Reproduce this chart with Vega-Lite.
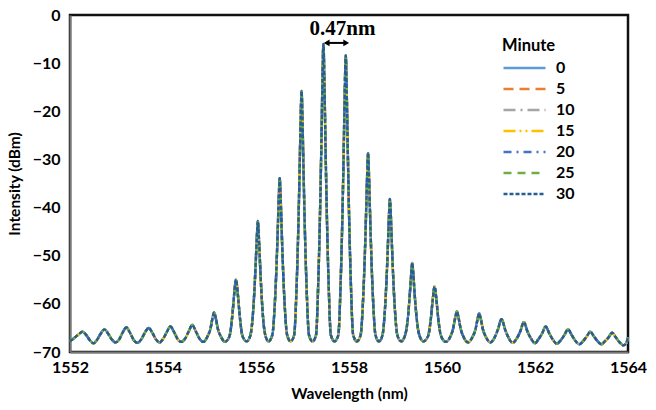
{
  "$schema": "https://vega.github.io/schema/vega-lite/v6.json",
  "width": 558,
  "height": 337,
  "autosize": "none",
  "padding": {"left": 70, "top": 15, "right": 28, "bottom": 58},
  "background": "white",
  "config": {
    "view": {"stroke": "#111", "strokeWidth": 2.5},
    "font": "Lato",
    "axis": {
      "labelFont": "Lato", "labelFontWeight": "bold", "labelFontSize": 16, "labelColor": "#000", "labelFlush": false,
      "titleFont": "Lato", "titleFontWeight": "bold", "titleFontSize": 15.5, "titleColor": "#000",
      "grid": false, "domainColor": "#777", "domainWidth": 2, "ticks": false
    },
    "legend": {
      "symbolType": "stroke", "symbolSize": 1764, "symbolStrokeWidth": 2.6, "clipHeight": 21,
      "labelFont": "Lato", "labelFontSize": 16, "labelFontWeight": "bold", "labelColor": "#000",
      "titleFont": "Lato", "titleFontSize": 16.5, "titleFontWeight": "bold", "titleColor": "#000",
      "labelOffset": 9, "rowPadding": 0, "titlePadding": 3
    }
  },
  "datasets": {
    "spec": [
      {"w": 1552.00, "v": -67.8}, {"w": 1552.10, "v": -67.0}, {"w": 1552.19, "v": -66.3}, {"w": 1552.27, "v": -65.8},
      {"w": 1552.35, "v": -66.5}, {"w": 1552.43, "v": -67.6}, {"w": 1552.505, "v": -68.2}, {"w": 1552.58, "v": -67.5},
      {"w": 1552.66, "v": -66.2}, {"w": 1552.74, "v": -65.3}, {"w": 1552.82, "v": -66.2}, {"w": 1552.90, "v": -67.4},
      {"w": 1552.975, "v": -68.0}, {"w": 1553.05, "v": -67.5}, {"w": 1553.13, "v": -66.0}, {"w": 1553.21, "v": -64.9},
      {"w": 1553.29, "v": -66.0}, {"w": 1553.37, "v": -67.5}, {"w": 1553.45, "v": -68.1}, {"w": 1553.53, "v": -67.4},
      {"w": 1553.61, "v": -66.0}, {"w": 1553.69, "v": -65.0}, {"w": 1553.77, "v": -66.0}, {"w": 1553.85, "v": -67.4},
      {"w": 1553.925, "v": -68.0}, {"w": 1554.00, "v": -67.3}, {"w": 1554.08, "v": -65.9}, {"w": 1554.16, "v": -64.7},
      {"w": 1554.24, "v": -65.9}, {"w": 1554.32, "v": -67.4}, {"w": 1554.395, "v": -67.9}, {"w": 1554.47, "v": -67.3},
      {"w": 1554.55, "v": -65.8}, {"w": 1554.63, "v": -64.4}, {"w": 1554.71, "v": -65.8}, {"w": 1554.79, "v": -67.3},
      {"w": 1554.865, "v": -67.9}, {"w": 1554.96, "v": -66.7}, {"w": 1555.02, "v": -65.2}, {"w": 1555.06, "v": -63.2},
      {"w": 1555.10, "v": -61.8}, {"w": 1555.14, "v": -63.2}, {"w": 1555.18, "v": -65.2}, {"w": 1555.24, "v": -66.7},
      {"w": 1555.335, "v": -67.9}, {"w": 1555.43, "v": -66.7}, {"w": 1555.49, "v": -62.5}, {"w": 1555.53, "v": -58.1},
      {"w": 1555.57, "v": -55.0}, {"w": 1555.61, "v": -58.1}, {"w": 1555.65, "v": -62.5}, {"w": 1555.71, "v": -66.7},
      {"w": 1555.80, "v": -67.8}, {"w": 1555.88, "v": -66.5}, {"w": 1555.93, "v": -62.6}, {"w": 1555.97, "v": -56.4},
      {"w": 1556.00, "v": -50.2}, {"w": 1556.02, "v": -45.8}, {"w": 1556.04, "v": -42.8}, {"w": 1556.06, "v": -45.8},
      {"w": 1556.08, "v": -50.2}, {"w": 1556.11, "v": -56.4}, {"w": 1556.15, "v": -62.6}, {"w": 1556.20, "v": -66.5},
      {"w": 1556.27, "v": -67.8}, {"w": 1556.35, "v": -66.5}, {"w": 1556.40, "v": -60.8}, {"w": 1556.44, "v": -52.4},
      {"w": 1556.47, "v": -44.0}, {"w": 1556.49, "v": -37.9}, {"w": 1556.51, "v": -33.9}, {"w": 1556.53, "v": -37.9},
      {"w": 1556.55, "v": -44.0}, {"w": 1556.58, "v": -52.4}, {"w": 1556.62, "v": -60.8}, {"w": 1556.67, "v": -66.5},
      {"w": 1556.745, "v": -67.8}, {"w": 1556.82, "v": -66.5}, {"w": 1556.87, "v": -57.2}, {"w": 1556.91, "v": -44.2},
      {"w": 1556.94, "v": -31.3}, {"w": 1556.96, "v": -22.0}, {"w": 1556.98, "v": -15.8}, {"w": 1557.00, "v": -22.0},
      {"w": 1557.02, "v": -31.3}, {"w": 1557.05, "v": -44.2}, {"w": 1557.09, "v": -57.2}, {"w": 1557.14, "v": -66.5},
      {"w": 1557.215, "v": -67.8}, {"w": 1557.29, "v": -66.5}, {"w": 1557.34, "v": -55.2}, {"w": 1557.38, "v": -39.8},
      {"w": 1557.41, "v": -24.5}, {"w": 1557.43, "v": -13.4}, {"w": 1557.45, "v": -6.0}, {"w": 1557.47, "v": -13.4},
      {"w": 1557.49, "v": -24.5}, {"w": 1557.52, "v": -39.8}, {"w": 1557.56, "v": -55.2}, {"w": 1557.61, "v": -66.5},
      {"w": 1557.69, "v": -67.8}, {"w": 1557.77, "v": -66.5}, {"w": 1557.82, "v": -55.7}, {"w": 1557.86, "v": -40.9},
      {"w": 1557.89, "v": -26.1}, {"w": 1557.91, "v": -15.5}, {"w": 1557.93, "v": -8.4}, {"w": 1557.95, "v": -15.5},
      {"w": 1557.97, "v": -26.1}, {"w": 1558.00, "v": -40.9}, {"w": 1558.04, "v": -55.7}, {"w": 1558.09, "v": -66.5},
      {"w": 1558.17, "v": -67.8}, {"w": 1558.25, "v": -66.5}, {"w": 1558.30, "v": -59.7}, {"w": 1558.34, "v": -50.0},
      {"w": 1558.37, "v": -40.3}, {"w": 1558.39, "v": -33.4}, {"w": 1558.41, "v": -28.7}, {"w": 1558.43, "v": -33.4},
      {"w": 1558.45, "v": -40.3}, {"w": 1558.48, "v": -50.0}, {"w": 1558.52, "v": -59.7}, {"w": 1558.57, "v": -66.5},
      {"w": 1558.645, "v": -67.8}, {"w": 1558.72, "v": -66.5}, {"w": 1558.77, "v": -61.6}, {"w": 1558.81, "v": -54.3},
      {"w": 1558.84, "v": -47.0}, {"w": 1558.86, "v": -41.7}, {"w": 1558.88, "v": -38.2}, {"w": 1558.90, "v": -41.7},
      {"w": 1558.92, "v": -47.0}, {"w": 1558.95, "v": -54.3}, {"w": 1558.99, "v": -61.6}, {"w": 1559.04, "v": -66.5},
      {"w": 1559.12, "v": -67.8}, {"w": 1559.20, "v": -66.7}, {"w": 1559.25, "v": -64.3}, {"w": 1559.29, "v": -60.3},
      {"w": 1559.32, "v": -56.3}, {"w": 1559.34, "v": -53.4}, {"w": 1559.36, "v": -51.5}, {"w": 1559.38, "v": -53.4},
      {"w": 1559.40, "v": -56.3}, {"w": 1559.43, "v": -60.3}, {"w": 1559.47, "v": -64.3}, {"w": 1559.52, "v": -66.7},
      {"w": 1559.60, "v": -67.8}, {"w": 1559.70, "v": -66.7}, {"w": 1559.76, "v": -63.1}, {"w": 1559.80, "v": -59.2},
      {"w": 1559.84, "v": -56.4}, {"w": 1559.88, "v": -59.2}, {"w": 1559.92, "v": -63.1}, {"w": 1559.98, "v": -66.7},
      {"w": 1560.08, "v": -67.9}, {"w": 1560.18, "v": -66.8}, {"w": 1560.24, "v": -65.1}, {"w": 1560.28, "v": -63.1},
      {"w": 1560.32, "v": -61.6}, {"w": 1560.36, "v": -63.1}, {"w": 1560.40, "v": -65.1}, {"w": 1560.46, "v": -66.8},
      {"w": 1560.56, "v": -68.0}, {"w": 1560.66, "v": -66.8}, {"w": 1560.72, "v": -65.3}, {"w": 1560.76, "v": -63.4},
      {"w": 1560.80, "v": -62.0}, {"w": 1560.84, "v": -63.4}, {"w": 1560.88, "v": -65.3}, {"w": 1560.94, "v": -66.8},
      {"w": 1561.04, "v": -68.0}, {"w": 1561.12, "v": -67.2}, {"w": 1561.20, "v": -65.4}, {"w": 1561.28, "v": -63.2},
      {"w": 1561.36, "v": -65.4}, {"w": 1561.44, "v": -67.2}, {"w": 1561.52, "v": -68.1}, {"w": 1561.60, "v": -67.3},
      {"w": 1561.68, "v": -65.8}, {"w": 1561.76, "v": -63.8}, {"w": 1561.84, "v": -65.8}, {"w": 1561.92, "v": -67.3},
      {"w": 1562.00, "v": -68.2}, {"w": 1562.07, "v": -67.4}, {"w": 1562.15, "v": -66.2}, {"w": 1562.23, "v": -64.7},
      {"w": 1562.31, "v": -66.2}, {"w": 1562.39, "v": -67.5}, {"w": 1562.47, "v": -68.3}, {"w": 1562.55, "v": -67.6},
      {"w": 1562.63, "v": -66.5}, {"w": 1562.71, "v": -65.3}, {"w": 1562.79, "v": -66.5}, {"w": 1562.87, "v": -67.7},
      {"w": 1562.95, "v": -68.4}, {"w": 1563.03, "v": -67.8}, {"w": 1563.11, "v": -66.8}, {"w": 1563.19, "v": -65.8},
      {"w": 1563.27, "v": -66.8}, {"w": 1563.35, "v": -67.8}, {"w": 1563.43, "v": -68.4}, {"w": 1563.50, "v": -67.8},
      {"w": 1563.58, "v": -67.0}, {"w": 1563.66, "v": -66.0}, {"w": 1563.74, "v": -67.0}, {"w": 1563.82, "v": -68.0},
      {"w": 1563.90, "v": -68.6}, {"w": 1563.96, "v": -68.2}, {"w": 1564.00, "v": -67.0}
    ]
  },
  "layer": [
    {"data": {"name": "spec"},
     "mark": {"type": "line", "strokeWidth": 2.4, "interpolate": "monotone"},
     "encoding": {
       "x": {"field": "w", "type": "quantitative", "scale": {"domain": [1552, 1564], "nice": false, "zero": false},
         "axis": {"title": "Wavelength (nm)", "values": [1552, 1554, 1556, 1558, 1560, 1562, 1564], "format": "d", "labelPadding": 7, "titlePadding": 11}},
       "y": {"field": "v", "type": "quantitative", "scale": {"domain": [-70, 0], "nice": false, "zero": false},
         "axis": {"title": "Intensity (dBm)", "values": [-70, -60, -50, -40, -30, -20, -10, 0], "labelPadding": 10, "titlePadding": 10}},
       "color": {"datum": "0", "type": "nominal", "title": "Minute",
         "scale": {"domain": ["0", "5", "10", "15", "20", "25", "30"], "range": ["#5B9BD5", "#ED7D31", "#A5A5A5", "#FFC000", "#4472C4", "#70AD47", "#255E91"]},
         "legend": {"orient": "none", "legendX": 432, "legendY": 23}},
       "strokeDash": {"datum": "0", "type": "nominal", "title": "Minute",
         "scale": {"domain": ["0", "5", "10", "15", "20", "25", "30"], "range": [[1, 0], [10, 6], [12, 5, 2, 5], [12, 4, 2, 4, 2, 4], [8, 5, 2, 5], [8, 6], [4, 2]]},
         "legend": {"orient": "none", "legendX": 432, "legendY": 23}}}},
    {"data": {"name": "spec"},
     "mark": {"type": "line", "strokeWidth": 2.4, "interpolate": "monotone"},
     "encoding": {"x": {"field": "w", "type": "quantitative"}, "y": {"field": "v", "type": "quantitative"},
       "color": {"datum": "5", "type": "nominal", "title": "Minute"}, "strokeDash": {"datum": "5", "type": "nominal", "title": "Minute"}}},
    {"data": {"name": "spec"},
     "mark": {"type": "line", "strokeWidth": 2.4, "interpolate": "monotone"},
     "encoding": {"x": {"field": "w", "type": "quantitative"}, "y": {"field": "v", "type": "quantitative"},
       "color": {"datum": "10", "type": "nominal", "title": "Minute"}, "strokeDash": {"datum": "10", "type": "nominal", "title": "Minute"}}},
    {"data": {"name": "spec"},
     "mark": {"type": "line", "strokeWidth": 2.4, "interpolate": "monotone"},
     "encoding": {"x": {"field": "w", "type": "quantitative"}, "y": {"field": "v", "type": "quantitative"},
       "color": {"datum": "15", "type": "nominal", "title": "Minute"}, "strokeDash": {"datum": "15", "type": "nominal", "title": "Minute"}}},
    {"data": {"name": "spec"},
     "mark": {"type": "line", "strokeWidth": 2.4, "interpolate": "monotone"},
     "encoding": {"x": {"field": "w", "type": "quantitative"}, "y": {"field": "v", "type": "quantitative"},
       "color": {"datum": "20", "type": "nominal", "title": "Minute"}, "strokeDash": {"datum": "20", "type": "nominal", "title": "Minute"}}},
    {"data": {"name": "spec"},
     "mark": {"type": "line", "strokeWidth": 2.4, "interpolate": "monotone"},
     "encoding": {"x": {"field": "w", "type": "quantitative"}, "y": {"field": "v", "type": "quantitative"},
       "color": {"datum": "25", "type": "nominal", "title": "Minute"}, "strokeDash": {"datum": "25", "type": "nominal", "title": "Minute"}}},
    {"data": {"name": "spec"},
     "mark": {"type": "line", "strokeWidth": 2.4, "interpolate": "monotone"},
     "encoding": {"x": {"field": "w", "type": "quantitative"}, "y": {"field": "v", "type": "quantitative"},
       "color": {"datum": "30", "type": "nominal", "title": "Minute"}, "strokeDash": {"datum": "30", "type": "nominal", "title": "Minute"}}},
    {"data": {"values": [{}]},
     "mark": {"type": "rule", "color": "#000", "strokeWidth": 2},
     "encoding": {"x": {"datum": 1557.50, "type": "quantitative"}, "x2": {"datum": 1557.96}, "y": {"datum": -5.8, "type": "quantitative"}}},
    {"data": {"values": [{}]},
     "mark": {"type": "point", "shape": "triangle-left", "filled": true, "color": "#000", "size": 45, "opacity": 1},
     "encoding": {"x": {"datum": 1557.52, "type": "quantitative"}, "y": {"datum": -5.8, "type": "quantitative"}}},
    {"data": {"values": [{}]},
     "mark": {"type": "point", "shape": "triangle-right", "filled": true, "color": "#000", "size": 45, "opacity": 1},
     "encoding": {"x": {"datum": 1557.94, "type": "quantitative"}, "y": {"datum": -5.8, "type": "quantitative"}}},
    {"data": {"values": [{}]},
     "mark": {"type": "text", "text": "0.47nm", "font": "Liberation Serif", "fontWeight": "bold", "fontSize": 21, "color": "#000", "align": "center", "baseline": "middle"},
     "encoding": {"x": {"datum": 1557.86, "type": "quantitative"}, "y": {"datum": -3.0, "type": "quantitative"}}}
  ]
}
